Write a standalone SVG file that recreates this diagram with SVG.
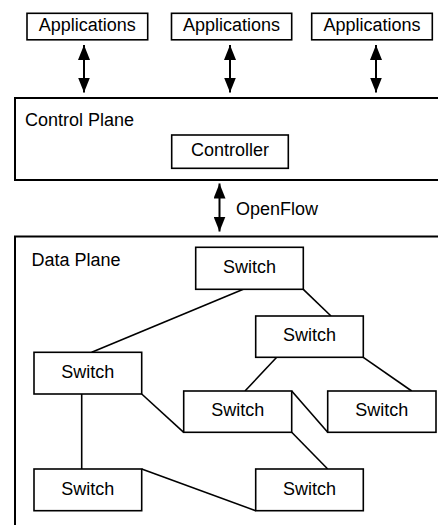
<svg xmlns="http://www.w3.org/2000/svg" width="438" height="525" viewBox="0 0 438 525">
<style>
rect{fill:#fff;stroke:#000;stroke-width:1.6}
.plane{stroke-width:2}
text{font-family:"Liberation Sans",Arial,sans-serif;font-size:18px;fill:#000}
.c{text-anchor:middle}
.ln{stroke:#000;stroke-width:1.6;fill:none}
.ar{stroke:#000;stroke-width:2;fill:none;marker-start:url(#ah);marker-end:url(#ah)}
</style>
<defs>
<marker id="ah" markerUnits="userSpaceOnUse" markerWidth="16" markerHeight="12" refX="15" refY="6" orient="auto-start-reverse">
<path d="M0,0 L15,6 L0,12 z" fill="#000"/>
</marker>
</defs>
<rect id="control-plane" class="plane" x="15" y="98" width="430" height="82"/>
<rect id="data-plane" class="plane" x="15" y="236.5" width="430" height="300"/>
<text x="25" y="126">Control Plane</text>
<text x="31.5" y="265.5">Data Plane</text>
<g id="connectors">
<line class="ar" x1="84" y1="45" x2="84" y2="92.5"/>
<line class="ar" x1="230" y1="45" x2="230" y2="92.5"/>
<line class="ar" x1="376" y1="45" x2="376" y2="92.5"/>
<line class="ar" x1="219.5" y1="183.5" x2="219.5" y2="231.5"/>
<line class="ln" x1="243.3" y1="289.3" x2="91.7" y2="352.3"/>
<line class="ln" x1="303.3" y1="289.3" x2="331" y2="316"/>
<line class="ln" x1="276.7" y1="357.3" x2="245" y2="391"/>
<line class="ln" x1="363.3" y1="357.3" x2="411.7" y2="391"/>
<line class="ln" x1="141.7" y1="394" x2="183.7" y2="432.3"/>
<line class="ln" x1="291.7" y1="391" x2="327.7" y2="432.3"/>
<line class="ln" x1="291.7" y1="432.3" x2="327.7" y2="469"/>
<line class="ln" x1="81.7" y1="394" x2="81.7" y2="469"/>
<line class="ln" x1="141.7" y1="469" x2="255.7" y2="510.7"/>
</g>
<text x="236" y="215">OpenFlow</text>
<g id="app1"><rect x="27" y="13.3" width="120.7" height="26.5"/><text class="c" x="87.3" y="30.7">Applications</text></g>
<g id="app2"><rect x="171.5" y="13.3" width="120.2" height="26.5"/><text class="c" x="231.5" y="30.7">Applications</text></g>
<g id="app3"><rect x="311.7" y="13.3" width="120.6" height="26.5"/><text class="c" x="372" y="30.7">Applications</text></g>
<g id="controller"><rect x="171.7" y="135" width="116.6" height="33.3"/><text class="c" x="230" y="156.2">Controller</text></g>
<g id="switch-top"><rect x="195.7" y="247.3" width="107.6" height="42"/><text class="c" x="249.5" y="272.9">Switch</text></g>
<g id="switch-midright"><rect x="255.7" y="316" width="107.6" height="41.3"/><text class="c" x="309.5" y="341.3">Switch</text></g>
<g id="switch-left"><rect x="34" y="352.3" width="107.7" height="41.7"/><text class="c" x="87.8" y="377.8">Switch</text></g>
<g id="switch-center"><rect x="183.7" y="391" width="108" height="41.3"/><text class="c" x="237.7" y="416.3">Switch</text></g>
<g id="switch-right"><rect x="327.7" y="391" width="108.3" height="41.3"/><text class="c" x="381.8" y="416.3">Switch</text></g>
<g id="switch-bottomleft"><rect x="34" y="469" width="107.7" height="41.7"/><text class="c" x="87.8" y="494.5">Switch</text></g>
<g id="switch-bottomright"><rect x="255.7" y="469" width="107.6" height="41.7"/><text class="c" x="309.5" y="494.5">Switch</text></g>
</svg>
